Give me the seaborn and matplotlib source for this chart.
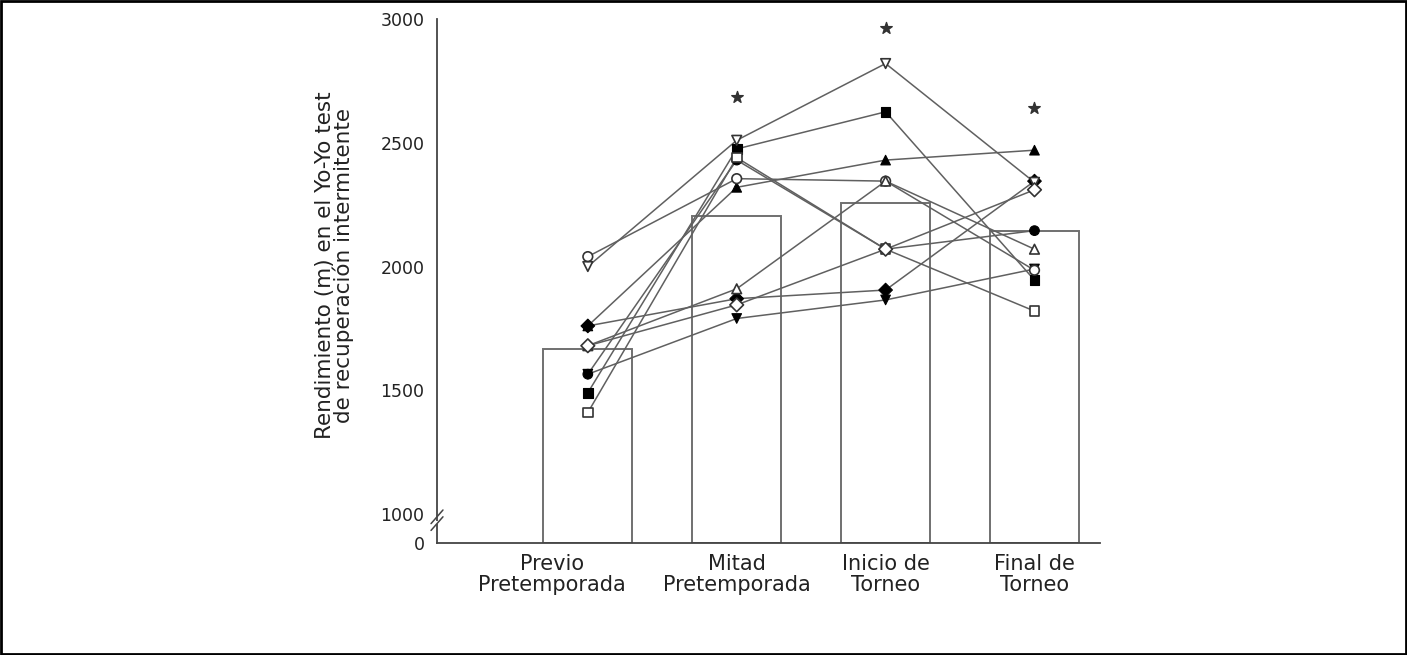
import numpy as np
import pandas as pd
import matplotlib
matplotlib.use("Agg")
import matplotlib.pyplot as plt
from matplotlib.patches import Rectangle
from matplotlib.lines import Line2D
from matplotlib.transforms import ScaledTranslation
import seaborn as sns

# Test moments
categories = ["Previo\nPretemporada", "Mitad\nPretemporada", "Inicio de\nTorneo", "Final de\nTorneo"]

# Group mean (bars), metres
bar_means = [1665, 2205, 2258, 2145]

# Individual players, metres at each moment
p1 = [2000, 2510, 2820, 2340]
p2 = [1490, 2475, 2625, 1945]
p3 = [1760, 2320, 2430, 2470]
p4 = [2040, 2355, 2345, 1985]
p5 = [1680, 1910, 2345, 2070]
p6 = [1410, 2440, 2070, 1820]
p7 = [1565, 2430, 2070, 2145]
p8 = [1760, 1870, 1905, 2345]
p9 = [1680, 1845, 2070, 2310]
p10 = [1565, 1790, 1865, 1990]

players = {"J1": p1, "J2": p2, "J3": p3, "J4": p4, "J5": p5,
           "J6": p6, "J7": p7, "J8": p8, "J9": p9, "J10": p10}
player_markers = {"J1": "v", "J2": "s", "J3": "^", "J4": "o", "J5": "^",
                  "J6": "s", "J7": "o", "J8": "D", "J9": "D", "J10": "v"}
player_filled = {"J1": False, "J2": True, "J3": True, "J4": False, "J5": False,
                 "J6": False, "J7": True, "J8": True, "J9": False, "J10": True}

# Significant differences vs. the first moment
signif_idx = [1, 2, 3]
signif_y = [2685, 2965, 2640]

yticks = [0, 1000, 1500, 2000, 2500, 3000]

rows = []
for name, vals in players.items():
    for i, v in enumerate(vals):
        rows.append({"jugador": name, "pos": i, "metros": v,
                     "relleno": player_filled[name]})
df = pd.DataFrame(rows)
bars = pd.DataFrame({"pos": range(len(categories)), "media": bar_means})

sns.set_style("white")
plt.rcParams["font.family"] = ["DejaVu Sans"]

fig = plt.figure(figsize=(14.07, 6.55), dpi=100)
ax = fig.add_axes([437 / 1407, 1 - 543 / 655, 663 / 1407, 524 / 655])

# Broken y axis: compress the 0-1000 band
K = 0.117


def fwd(y):
    y = np.asarray(y, dtype=float)
    return np.where(y >= 1000, y, 1000 - (1000 - y) * K)


def inv(v):
    v = np.asarray(v, dtype=float)
    return np.where(v >= 1000, v, 1000 - (1000 - v) / K)


ax.set_yscale("function", functions=(fwd, inv))

sns.barplot(data=bars, x="pos", y="media", native_scale=True, width=0.6,
            color="white", edgecolor="#707070", linewidth=1.4, ax=ax, zorder=1)

for name in players:
    sns.lineplot(data=df[df["jugador"] == name], x="pos", y="metros",
                 color="#606060", linewidth=1.1, ax=ax, zorder=2,
                 estimator=None, sort=False, legend=False)

filled = df[df["relleno"]]
opened = df[~df["relleno"]]
sns.scatterplot(data=filled, x="pos", y="metros", style="jugador",
                markers={k: player_markers[k] for k in filled["jugador"].unique()},
                color="black", edgecolor="black", s=48, linewidth=0.8,
                ax=ax, zorder=3, legend=False)
sns.scatterplot(data=opened, x="pos", y="metros", style="jugador",
                markers={k: player_markers[k] for k in opened["jugador"].unique()},
                color="white", edgecolor="#333333", s=48, linewidth=1.2,
                ax=ax, zorder=4, legend=False)

ax.scatter(signif_idx, signif_y, marker="*", s=75, color="#333333", zorder=5)

ax.set_xlim(-1.013, 3.44)
ax.set_ylim(0, 3000)
ax.set_yticks(yticks)
ax.set_yticklabels([str(t) for t in yticks], fontsize=12.5, color="#222222")
ax.set_xticks(range(len(categories)))
ax.set_xticklabels(categories, fontsize=15, color="#222222", linespacing=1.05)
ax.tick_params(axis="both", direction="out", length=5, width=1, color="#555555")
ax.tick_params(axis="x", pad=3)
ax.tick_params(axis="y", pad=4)
# first category label sits a little left of its tick
first = ax.get_xticklabels()[0]
first.set_transform(first.get_transform() + ScaledTranslation(-0.36, 0, fig.dpi_scale_trans))

ax.set_xlabel("")
ax.set_ylabel("Rendimiento (m) en el Yo-Yo test\nde recuperación intermitente",
              fontsize=15.5, color="#222222", multialignment="center", linespacing=0.88)
ax.yaxis.set_label_coords(-(437 - 354) / 663, 0.53)

for side in ["top", "right"]:
    ax.spines[side].set_visible(False)
for side in ["left", "bottom"]:
    ax.spines[side].set_color("#444444")
    ax.spines[side].set_linewidth(1.3)

# Axis break marks
for dy in (0.0, 0.013):
    ax.add_line(Line2D([-0.009, 0.009], [0.024 + dy, 0.050 + dy],
                       transform=ax.transAxes, color="#444444", lw=1.1,
                       clip_on=False, zorder=6))
ax.add_patch(Rectangle((-0.004, 0.036), 0.008, 0.006, transform=ax.transAxes,
                       facecolor="white", edgecolor="none", clip_on=False, zorder=5))

fig.patches.append(Rectangle((0.001, 0.002), 0.998, 0.996, transform=fig.transFigure,
                             fill=False, edgecolor="black", linewidth=2))

fig.savefig("out.png", dpi=100)
